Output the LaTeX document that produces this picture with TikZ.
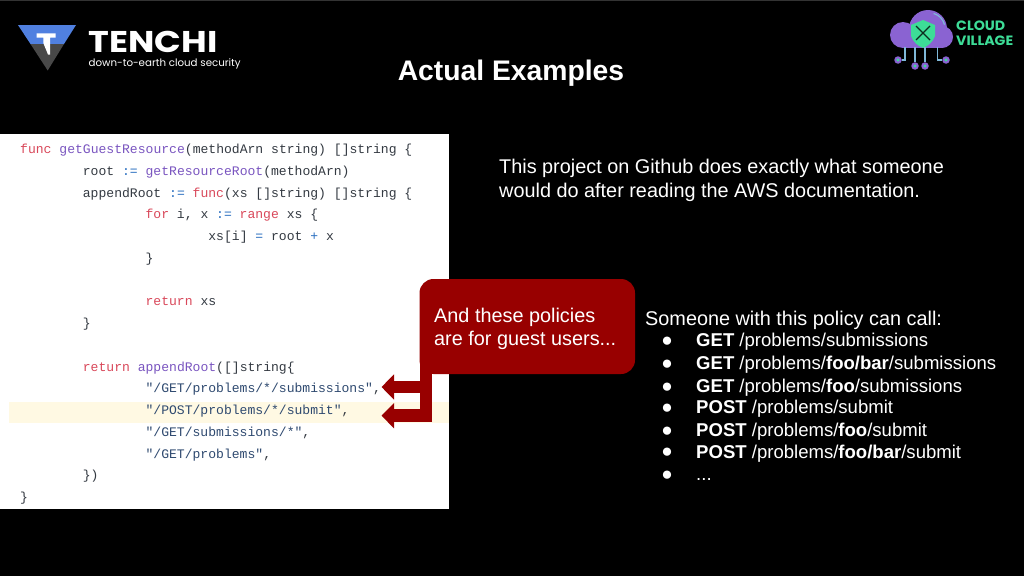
\documentclass[tikz,border=0pt]{standalone}
\usepackage{fontspec}
\usepackage{xcolor}
\usepackage{graphicx}
\setmainfont{Liberation Sans}
\setmonofont{Liberation Mono}
\newfontfamily\logofont{Poppins}
\usetikzlibrary{calc}
\usetikzlibrary{arrows.meta}
\definecolor{kwred}{HTML}{D9485A}
\definecolor{fnpurple}{HTML}{7A55C0}
\definecolor{plaingray}{HTML}{343A42}
\definecolor{opblue}{HTML}{2A6FC0}
\definecolor{strblue}{HTML}{2F4A70}
\definecolor{calloutred}{HTML}{980000}
\definecolor{linecream}{HTML}{FFF9E3}
\definecolor{tenchiblue}{HTML}{5080E0}
\definecolor{tenchigray}{HTML}{484848}
\definecolor{cloudpurple}{HTML}{8A63D2}
\definecolor{cloudgreen}{HTML}{3DDC97}
\definecolor{cloudwire}{HTML}{7FB8D8}
\newcommand{\kw}[1]{\textcolor{kwred}{#1}}
\newcommand{\fn}[1]{\textcolor{fnpurple}{#1}}
\newcommand{\op}[1]{\textcolor{opblue}{#1}}
\newcommand{\str}[1]{\textcolor{strblue}{#1}}
\tikzset{
    codeline/.style={anchor=west, inner sep=0pt, text height=9.2pt, text depth=2pt, text=plaingray, font=\fontsize{13.07}{15}\ttfamily},
    slidetext/.style={anchor=west, inner sep=0pt, text height=17pt, text depth=4pt, text=white, font=\fontsize{19.85}{23.5}\selectfont},
    bulletdot/.style={anchor=center, inner sep=0pt, text=white, font=\fontsize{19}{19}\selectfont},
    bullettext/.style={anchor=west, inner sep=0pt, text height=17pt, text depth=4pt, text=white, font=\fontsize{18.55}{22}\selectfont},
    pointer/.style={line width=12.5pt, draw=calloutred, -{Triangle[length=12.5pt,width=24.5pt]}},
    stemline/.style={line width=12.5pt, draw=calloutred},
    wire/.style={draw=cloudwire, line width=1.3pt},
    pin/.style={circle, fill=cloudpurple, minimum size=7.5pt, inner sep=0pt, path picture={\fill[cloudgreen] (path picture bounding box.center) circle (1.7pt);}},
}
\begin{document}
\begin{tikzpicture}[x=1pt,y=-1pt]
\useasboundingbox (0,0) rectangle (1024,576);
\fill[black] (0,0) rectangle (1024,576);
\fill[black!80!white] (0,0) rectangle (1024,1);

%%% logos

% tenchi
\fill[tenchiblue] (18,25) -- (76,25) -- (64,44) -- (30.5,44) -- cycle;
\fill[tenchigray] (30.5,44) -- (64,44) -- (47.7,70.5) -- cycle;
\fill[white] (36.7,33.3) -- (55.7,33.3) -- (55.7,37.7) -- (50,37.7) -- (50,54.5) -- (48,54.5) -- (43.3,43) -- (43.3,37.7) -- (36.7,37.7) -- cycle;
\node[anchor=base west, inner sep=0pt, text height=21pt, text depth=0pt, text=white] (tenchi) at (88.5,52) {\logofont\fontsize{30}{30}\selectfont\bfseries\scalebox{1.17}[1]{TENCHI}};
\node[anchor=base west, inner sep=0pt, text height=9pt, text depth=2pt, text=white] (tagline) at (88.5,66.5) {\logofont\fontsize{10.25}{12}\selectfont down-to-earth cloud security};

% cloud village
\fill[cloudpurple] (903,35) circle (13) (928,29) circle (19) (942,37) circle (11);
\fill[cloudpurple] (903,34) rectangle (942,47.5);
\draw[cloudwire, line width=1.2pt] (933.6,13.5) .. controls (939,15) and (943,19) .. (944.5,24.7);
\fill[cloudgreen] (911,25) -- (923,20) -- (935,25) -- (935,36) .. controls (933,42) and (928,46) .. (923,48) .. controls (918,46) and (913,42) .. (911,36) -- cycle;
\draw[black!80!cloudgreen, line width=1.2pt] (916,26) -- (930,40);
\draw[black!80!cloudgreen, line width=1.2pt] (930,26) -- (916,40);
\node[pin] (pina) at (898,60) {};
\node[pin] (pinb) at (915,66) {};
\node[pin] (pinc) at (925,66) {};
\node[pin] (pind) at (946,60) {};
\coordinate (wirea) at (905,47);
\coordinate (wireb) at (915,47);
\coordinate (wirec) at (925,47);
\coordinate (wired) at (937.5,47);
\draw[wire] (wirea) |- (pina);
\draw[wire] (wireb) -- (pinb);
\draw[wire] (wirec) -- (pinc);
\draw[wire] (wired) |- (pind);
\node[anchor=base west, inner sep=0pt, text height=10pt, text depth=0pt, text=cloudgreen] (cloud) at (956,30) {\logofont\fontsize{13.5}{14}\selectfont\bfseries\scalebox{1.05}[1]{CLOUD}};
\node[anchor=base west, inner sep=0pt, text height=10pt, text depth=0pt, text=cloudgreen] (village) at (956,45) {\logofont\fontsize{13.5}{14}\selectfont\bfseries\scalebox{1.05}[1]{VILLAGE}};

%%% title

\node[anchor=base, inner sep=0pt, text=white] (title) at (511,80.5) {\fontsize{28.3}{30}\selectfont\bfseries Actual Examples};

%%% code

\fill[white] (0,134) rectangle (449,509);
\fill[linecream] (9,402) rectangle (449,423);

\node[codeline] (line1) at (20,150) {\kw{func} \fn{getGuestResource}(methodArn string) []string \{};
\node[codeline] (line2) at (82.7,171.8) {root \op{:=} \fn{getResourceRoot}(methodArn)};
\node[codeline] (line3) at (82.7,193.5) {appendRoot \op{:=} \kw{func}(xs []string) []string \{};
\node[codeline] (line4) at (145.4,215.3) {\kw{for} i, x \op{:=} \kw{range} xs \{};
\node[codeline] (line5) at (208.2,237) {xs[i] \op{=} root \op{+} x};
\node[codeline] (line6) at (145.4,258.8) {\}};
\node[codeline] (line7) at (145.4,302.3) {\kw{return} xs};
\node[codeline] (line8) at (82.7,324) {\}};
\node[codeline] (line9) at (82.7,367.5) {\kw{return} \fn{appendRoot}([]string\{};
\node[codeline] (line10) at (145.4,389.3) {\str{"/GET/problems/*/submissions"},};
\node[codeline] (line11) at (145.4,411) {\str{"/POST/problems/*/submit"},};
\node[codeline] (line12) at (145.4,432.8) {\str{"/GET/submissions/*"},};
\node[codeline] (line13) at (145.4,454.5) {\str{"/GET/problems"},};
\node[codeline] (line14) at (82.7,476.3) {\})};
\node[codeline] (line15) at (20,498) {\}};

%%% callout

\coordinate (stemtop) at (425.75,360);
\coordinate (stembot) at (425.75,422);
\coordinate (elbowa) at (426,387);
\coordinate (elbowb) at (432,415.7);
\coordinate (tipa) at (381.5,387);
\coordinate (tipb) at (381.5,415.7);
\draw[stemline] (stemtop) -- (stembot);
\draw[pointer] (elbowa) -- (tipa);
\draw[pointer] (elbowb) -- (tipb);
\node[fill=calloutred, rounded corners=14pt, minimum width=215.5pt, minimum height=95pt, inner sep=0pt] (guest) at (527.25,326.5) {};
\node[slidetext] (guesta) at (434,316) {And these policies};
\node[slidetext] (guestb) at (434,339) {are for guest users...};

%%% right side

\node[slidetext] (introa) at (499,167) {This project on Github does exactly what someone};
\node[slidetext] (introb) at (499,190.5) {would do after reading the AWS documentation.};
\node[slidetext] (someone) at (645,319) {Someone with this policy can call:};

\node[bulletdot] (dota) at (667,341.5) {●};
\node[bullettext] (itema) at (696,339.9) {\textbf{GET} /problems/submissions};
\node[bulletdot] (dotb) at (667,364.8) {●};
\node[bullettext] (itemb) at (696,362.9) {\textbf{GET} /problems/\textbf{foo/bar}/submissions};
\node[bulletdot] (dotc) at (667,387.5) {●};
\node[bullettext] (itemc) at (696,385.5) {\textbf{GET} /problems/\textbf{foo}/submissions};
\node[bulletdot] (dotd) at (667,408.5) {●};
\node[bullettext] (itemd) at (696,406.9) {\textbf{POST} /problems/submit};
\node[bulletdot] (dote) at (667,431.5) {●};
\node[bullettext] (iteme) at (696,429.9) {\textbf{POST} /problems/\textbf{foo}/submit};
\node[bulletdot] (dotf) at (667,453.1) {●};
\node[bullettext] (itemf) at (696,451.5) {\textbf{POST} /problems/\textbf{foo/bar}/submit};
\node[bulletdot] (dotg) at (667,475.5) {●};
\node[bullettext] (itemg) at (696,474.2) {...};
\end{tikzpicture}
\end{document}
